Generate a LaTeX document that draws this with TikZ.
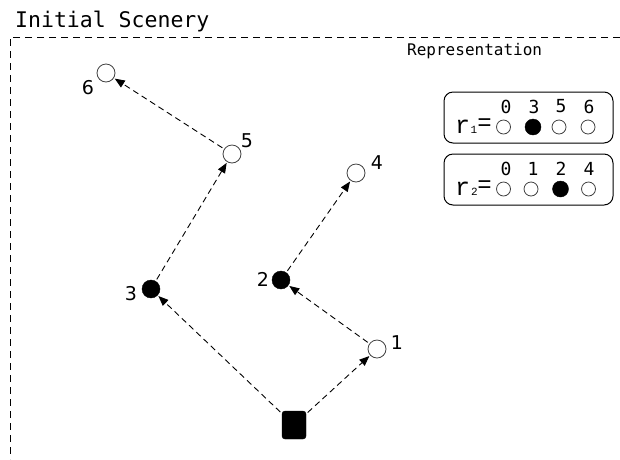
\documentclass[tikz,border=0pt]{standalone}
\usepackage{fontspec}
\usetikzlibrary{arrows.meta}
\newfontfamily\monofont{DejaVu Sans Mono}
\newfontfamily\rfont{Liberation Mono}
\newfontfamily\labfont{DejaVu Sans}
\tikzset{
  frame/.style={draw, line width=0.8pt, dash pattern=on 7pt off 5pt},
  opennode/.style={circle, draw=black!75, line width=0.8pt, fill=white, minimum size=18pt, inner sep=0pt},
  fullnode/.style={circle, draw=black, fill=black, minimum size=18pt, inner sep=0pt},
  opensmall/.style={circle, draw=black!75, line width=0.8pt, fill=white, minimum size=14pt, inner sep=0pt},
  fullsmall/.style={circle, draw=black, fill=black, minimum size=16pt, inner sep=0pt},
  startnode/.style={rectangle, rounded corners=3pt, draw=black, fill=black, minimum width=24pt, minimum height=28pt, inner sep=0pt},
  move/.style={-{Triangle[length=10pt,width=8pt]}, line width=0.9pt, dash pattern=on 6pt off 4pt, shorten >=1pt, shorten <=2pt},
  lab/.style={font=\labfont\fontsize{19}{19}\selectfont, inner sep=0pt},
  rbox/.style={draw, line width=1pt, rounded corners=9pt},
  idx/.style={font=\monofont\fontsize{18}{18}\selectfont, inner sep=0pt},
  rletter/.style={anchor=base west, inner sep=0pt, font=\rfont\fontsize{25}{25}\selectfont},
  rsub/.style={anchor=base, inner sep=0pt, font=\rfont\fontsize{11}{11}\selectfont},
  req/.style={inner sep=0pt, font=\rfont\fontsize{24}{24}\selectfont},
}
\begin{document}
\begin{tikzpicture}[x=1pt,y=-1pt]
\useasboundingbox (0,0) rectangle (620,459);
% title and frame
\node[anchor=base west, inner sep=0pt, font=\monofont\fontsize{21.5}{21.5}\selectfont] (title) at (15,27) {Initial Scenery};
\draw[frame] (620,37) -- (10,37) -- (10,459);
\node[anchor=base west, inner sep=0pt, font=\monofont\fontsize{16}{16}\selectfont] (rep) at (407,55) {Representation};
% nodes
\node[startnode] (s) at (294,425) {};
\node[opennode] (n1) at (377,349) {};
\node[fullnode] (n2) at (281,280) {};
\node[fullnode] (n3) at (151,289) {};
\node[opennode] (n4) at (356,173) {};
\node[opennode] (n5) at (232,154) {};
\node[opennode] (n6) at (106,73) {};
% labels
\node[lab] (l1) at (397,343) {1};
\node[lab] (l2) at (263,279) {2};
\node[lab] (l3) at (131,294) {3};
\node[lab] (l4) at (377,163) {4};
\node[lab] (l5) at (247,141) {5};
\node[lab] (l6) at (88,88) {6};
% arrows
\draw[move] (s) -- (n1);
\draw[move] (s) -- (n3);
\draw[move] (n1) -- (n2);
\draw[move] (n2) -- (n4);
\draw[move] (n3) -- (n5);
\draw[move] (n5) -- (n6);
% representation box 1
\draw[rbox] (444,92) rectangle (613,143);
\node[rletter] (r1) at (455,133) {r};
\node[rsub] (r1s) at (474,133) {1};
\node[req] (r1e) at (484.5,124.5) {=};
\node[opensmall] (a0) at (503.5,127) {};
\node[fullsmall] (a3) at (533,127) {};
\node[opensmall] (a5) at (559,127) {};
\node[opensmall] (a6) at (588,127) {};
\node[idx] (ta0) at (506,106.5) {0};
\node[idx] (ta3) at (534,106.5) {3};
\node[idx] (ta5) at (561,106.5) {5};
\node[idx] (ta6) at (589,106.5) {6};
% representation box 2
\draw[rbox] (444,154) rectangle (613,205);
\node[rletter] (r2) at (455,195) {r};
\node[rsub] (r2s) at (474.5,195) {2};
\node[req] (r2e) at (484.5,186.5) {=};
\node[opensmall] (b0) at (503.5,189) {};
\node[opensmall] (b1) at (531,189) {};
\node[fullsmall] (b2) at (560.5,189) {};
\node[opensmall] (b4) at (588.5,189) {};
\node[idx] (tb0) at (506,168.5) {0};
\node[idx] (tb1) at (533,168.5) {1};
\node[idx] (tb2) at (561,168.5) {2};
\node[idx] (tb4) at (589,168.5) {4};
\end{tikzpicture}
\end{document}
